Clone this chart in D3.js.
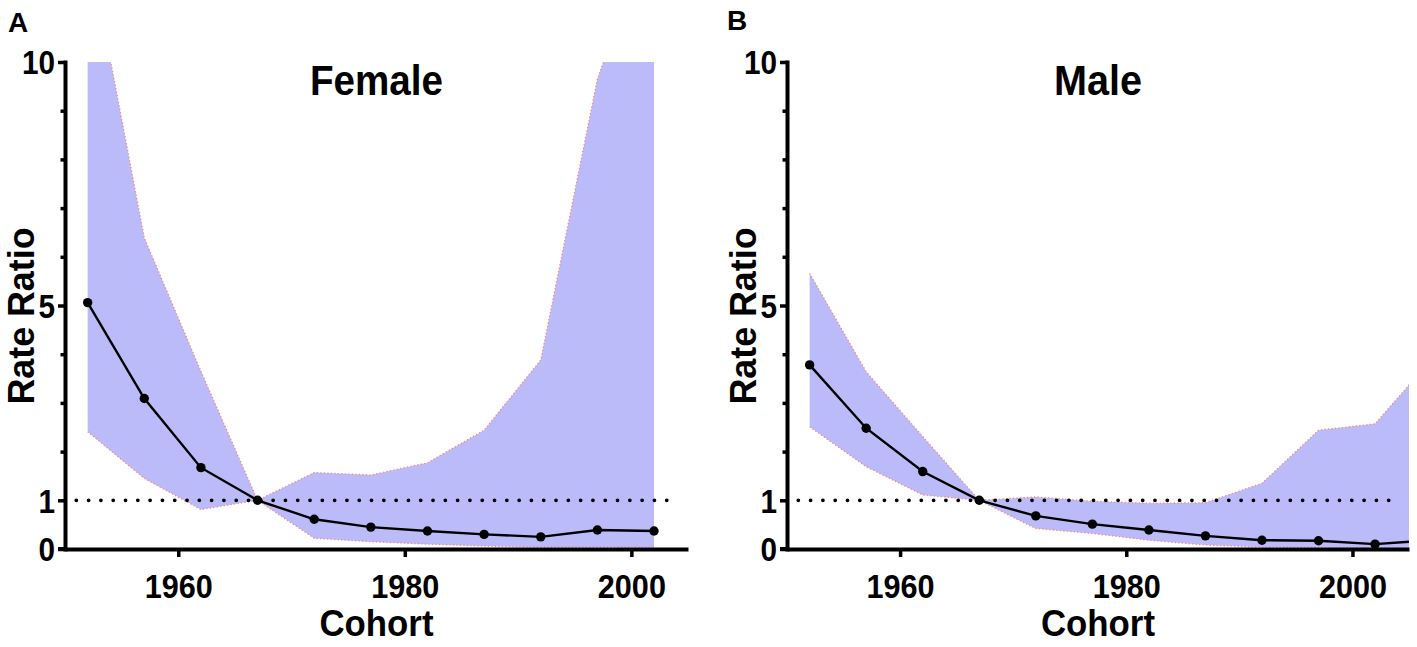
<!DOCTYPE html>
<html>
<head>
<meta charset="utf-8">
<script src="https://cdn.jsdelivr.net/npm/d3@7"></script>
<style>
  body { margin: 0; background: #fff; }
  svg text { font-family: "Liberation Sans", Arial, sans-serif; font-weight: bold; fill: #000; }
</style>
</head>
<body>
<svg id="chart" width="1417" height="647"></svg>
<script>
// ---------- DATA ----------
const femaleCohorts = [1952, 1957, 1962, 1967, 1972, 1977, 1982, 1987, 1992, 1997, 2002];
const femaleRR      = [5.06, 3.09, 1.67, 1.00, 0.61, 0.45, 0.37, 0.30, 0.25, 0.39, 0.37];
const femaleLower   = [2.41, 1.45, 0.81, 1.00, 0.22, 0.15, 0.10, 0.06, 0.04, 0.04, 0.03];
const femaleUpper   = [12.5, 6.39, 3.65, 1.00, 1.57, 1.52, 1.77, 2.44, 3.88, 9.65, 12.9];

const maleCohorts = [1952, 1957, 1962, 1967, 1972, 1977, 1982, 1987, 1992, 1997, 2002, 2007];
const maleRR      = [3.78, 2.48, 1.59, 1.00, 0.68, 0.51, 0.39, 0.27, 0.18, 0.17, 0.10, 0.18];
const maleLower   = [2.51, 1.69, 1.11, 1.00, 0.42, 0.32, 0.18, 0.08, 0.04, 0.03, 0.02, 0.02];
const maleUpper   = [5.66, 3.64, 2.31, 1.00, 1.07, 0.98, 0.94, 0.95, 1.35, 2.44, 2.57, 3.90];

const yTickValues = [0, 1, 2, 3, 4, 5, 6, 7, 8, 9, 10];
const yTickLabels = ["0", "1", "", "", "", "5", "", "", "", "", "10"];
const xTickValues = [1960, 1980, 2000];
const xDomain = [1950, 2005];
const yDomain = [0, 10];
const referenceValue = 1;
const referenceSpan = [1951, 2004];

// ---------- LAYOUT ----------
const svg = d3.select("#chart");
const yTop = 62, yBottom = 549;
const condense = 0.9;

const panels = [
  { letter: "A", title: "Female", titleLen: 133, cohorts: femaleCohorts, rr: femaleRR, lo: femaleLower, hi: femaleUpper,
    x0: 65, x1: 688, letterX: 8, letterY: 32 },
  { letter: "B", title: "Male", titleLen: 88, cohorts: maleCohorts, rr: maleRR, lo: maleLower, hi: maleUpper,
    x0: 787, x1: 1409, letterX: 727, letterY: 30 }
];

function squeeze(sel) {
  sel.each(function () {
    const w = this.getComputedTextLength();
    if (w > 0) d3.select(this).attr("textLength", w * condense).attr("lengthAdjust", "spacingAndGlyphs");
  });
}

panels.forEach((p, pi) => {
  const x = d3.scaleLinear().domain(xDomain).range([p.x0, p.x1]);
  const y = d3.scaleLinear().domain(yDomain).range([yBottom, yTop]);
  const g = svg.append("g");
  const rows = p.cohorts.map((c, i) => ({ c, rr: p.rr[i], lo: p.lo[i], hi: p.hi[i] }));

  const clipId = "clip" + pi;
  svg.append("clipPath").attr("id", clipId)
    .append("rect").attr("x", p.x0).attr("y", yTop)
    .attr("width", p.x1 - p.x0).attr("height", yBottom - yTop + 1);

  const plot = g.append("g").attr("clip-path", `url(#${clipId})`);

  // confidence band
  const area = d3.area().x(d => x(d.c)).y0(d => y(d.lo)).y1(d => y(d.hi));
  plot.append("path").datum(rows).attr("d", area).attr("fill", "#bbbbf9");
  const edge = key => d3.line().x(d => x(d.c)).y(d => y(d[key]));
  ["lo", "hi"].forEach(k => {
    plot.append("path").datum(rows).attr("d", edge(k))
      .attr("fill", "none").attr("stroke", "#f28a8a")
      .attr("stroke-width", 1.3).attr("stroke-dasharray", "1.3,2.2");
  });

  // reference line at 1
  g.append("path")
    .attr("d", d3.line()([[x(referenceSpan[0]), y(referenceValue)], [x(referenceSpan[1]), y(referenceValue)]]))
    .attr("fill", "none").attr("stroke", "#000")
    .attr("stroke-width", 3.8).attr("stroke-linecap", "round")
    .attr("stroke-dasharray", "0,12.3");

  // rate ratio line + markers
  plot.append("path").datum(rows)
    .attr("d", d3.line().x(d => x(d.c)).y(d => y(d.rr)))
    .attr("fill", "none").attr("stroke", "#000").attr("stroke-width", 2.4);
  plot.selectAll("circle").data(rows).join("circle")
    .attr("cx", d => x(d.c)).attr("cy", d => y(d.rr)).attr("r", 4.7).attr("fill", "#000");

  // y axis
  const yAxis = d3.axisLeft(y).tickValues(yTickValues)
    .tickFormat((d, i) => yTickLabels[i]).tickSize(7).tickSizeOuter(0);
  const ya = g.append("g").attr("transform", `translate(${p.x0},0)`).call(yAxis);
  ya.attr("font-size", 33).attr("font-family", "Liberation Sans, Arial, sans-serif").attr("font-weight", "bold");
  ya.select(".domain").attr("stroke", "#000").attr("stroke-width", 4).attr("stroke-linecap", "square");
  ya.selectAll(".tick line").attr("stroke", "#000").attr("stroke-width", 3.5)
    .attr("x2", (d, i) => yTickLabels[i] === "" ? -4.5 : -7);
  ya.selectAll(".tick text").attr("x", -10).attr("dy", "0.36em").call(squeeze);

  // x axis
  const xAxis = d3.axisBottom(x).tickValues(xTickValues).tickFormat(d3.format("d"))
    .tickSize(8).tickSizeOuter(0);
  const xa = g.append("g").attr("transform", `translate(0,${yBottom})`).call(xAxis);
  xa.attr("font-size", 34).attr("font-family", "Liberation Sans, Arial, sans-serif").attr("font-weight", "bold");
  xa.select(".domain").attr("stroke", "#000").attr("stroke-width", 4);
  xa.selectAll(".tick line").attr("stroke", "#000").attr("stroke-width", 3.5);
  xa.selectAll(".tick text").attr("y", 25).attr("dy", "0.71em").call(squeeze);

  // extend x axis line to left tick at 0
  g.append("line").attr("x1", p.x0 - 7).attr("x2", p.x0).attr("y1", yBottom).attr("y2", yBottom)
    .attr("stroke", "#000").attr("stroke-width", 4);

  // labels
  const cx = (p.x0 + p.x1) / 2;
  g.append("text").attr("x", cx).attr("y", 95).attr("text-anchor", "middle")
    .attr("font-size", 43).attr("textLength", p.titleLen).attr("lengthAdjust", "spacingAndGlyphs")
    .text(p.title);
  g.append("text").attr("x", cx).attr("y", 636).attr("text-anchor", "middle")
    .attr("font-size", 37).attr("textLength", 114).attr("lengthAdjust", "spacingAndGlyphs")
    .text("Cohort");
  g.append("text").attr("transform", `translate(${p.x0 - 31},316) rotate(-90)`)
    .attr("text-anchor", "middle").attr("font-size", 36).attr("textLength", 177)
    .attr("lengthAdjust", "spacingAndGlyphs").text("Rate Ratio");
  g.append("text").attr("x", p.letterX).attr("y", p.letterY).attr("font-size", 28).text(p.letter);
});
</script>
</body>
</html>
